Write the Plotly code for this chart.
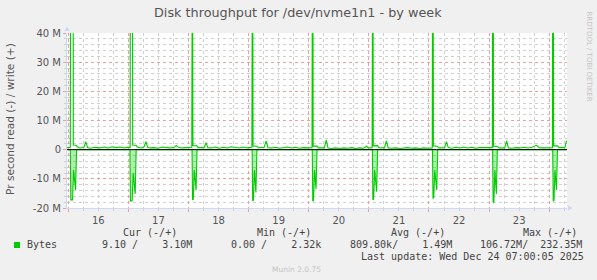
import pandas as pd
import plotly.graph_objects as go

# ---------------- data ----------------
title_text = "Disk throughput for /dev/nvme1n1 - by week"
y_title_text = "Pr second read (-) / write (+)"
start_time = "2025-12-16 00:00"

# hours since start_time, and write throughput in MB/s
write_hours = [
    -0.5,
    0.8, 1.0, 1.8, 2.0, 3.1, 3.7, 4.7, 6.2, 7.0, 7.7, 8.7, 10.7, 12.7, 14.3, 15.9, 17.5, 19.1, 20.7, 22.3, 23.5,
    24.7, 24.8, 25.5, 25.7, 27.1, 27.7, 29.1, 30.2, 31.0, 31.7, 32.7, 34.3, 35.9, 37.5, 39.1, 40.7, 42.3, 43.1, 43.9, 45.5, 47.1,
    49.3, 49.55, 49.75, 51.3, 51.9, 54.2, 55.0, 55.7, 57.1, 58.7, 60.3, 61.9, 63.5, 65.1, 66.7, 68.3, 69.9, 71.5,
    73.3, 73.55, 73.75, 75.3, 75.9, 78.2, 79.0, 79.7, 81.1, 82.7, 84.3, 85.9, 87.5, 89.1, 90.7, 92.3, 93.9, 95.5,
    97.3, 97.55, 97.75, 99.3, 99.9, 102.2, 103.0, 103.7, 105.1, 106.7, 108.3, 109.9, 111.5, 113.1, 114.7, 116.3, 117.9, 119.1, 119.7,
    121.3, 121.55, 121.75, 123.4, 123.9, 126.2, 127.0, 127.7, 129.1, 130.7, 132.3, 133.9, 135.5, 137.1, 138.7, 140.3, 141.9, 143.5,
    145.3, 145.55, 145.75, 147.3, 147.9, 150.2, 151.0, 151.7, 153.1, 154.7, 156.3, 157.9, 159.5, 161.1, 162.7, 164.3, 165.9, 167.5,
    169.3, 169.55, 169.75, 171.3, 171.9, 174.2, 175.0, 175.7, 177.1, 178.7, 180.3, 181.9, 183.5, 185.1, 187.0, 187.9, 189.5, 191.1,
    193.3, 193.55, 193.75, 195.3, 195.9, 197.9, 198.3, 198.9,
]
write_mb = [
    0.7,
    0.8, 120, 232, 1.6, 1.5, 0.9, 0.6, 0.8, 2.7, 0.7, 0.5, 0.8, 0.6, 0.9, 0.6, 1.0, 0.7, 0.9, 0.6, 0.8,
    0.8, 150, 180, 1.6, 1.4, 0.8, 0.6, 0.9, 2.7, 0.8, 0.6, 0.7, 0.5, 0.9, 0.7, 0.6, 0.8, 1.4, 0.8, 0.6, 0.7,
    0.8, 90, 1.4, 1.3, 0.7, 0.7, 2.4, 0.7, 0.6, 0.9, 0.5, 0.8, 0.6, 1.0, 0.7, 0.6, 0.9, 0.6,
    0.8, 110, 1.3, 1.2, 0.7, 0.8, 3.0, 0.7, 0.6, 0.8, 0.5, 0.7, 0.9, 0.6, 0.8, 0.5, 0.7, 0.6,
    0.7, 130, 1.2, 1.2, 0.6, 0.6, 3.3, 0.6, 0.4, 0.6, 0.4, 0.6, 0.5, 0.7, 0.4, 0.6, 0.5, 1.2, 0.6,
    0.7, 100, 1.3, 1.4, 0.7, 0.6, 3.0, 0.6, 0.5, 0.6, 0.4, 0.6, 0.7, 0.5, 0.6, 0.4, 0.6, 0.5,
    0.6, 140, 1.3, 1.2, 0.6, 0.7, 2.7, 0.7, 0.5, 0.8, 0.6, 0.9, 0.6, 0.8, 0.5, 0.7, 0.6, 0.7,
    0.7, 160, 1.2, 1.1, 0.6, 0.6, 3.0, 0.6, 0.5, 0.7, 0.6, 0.8, 0.6, 0.8, 1.5, 0.7, 0.6, 0.7,
    0.7, 200, 1.3, 1.3, 0.7, 0.7, 0.8, 3.1,
]

# read throughput in MB/s (drawn below zero)
read_hours = [
    -0.5, 0.8, 1.0, 1.7, 2.1, 2.9, 3.3,
    24.6, 24.8, 25.5, 25.9, 26.7, 27.1,
    49.4, 49.6, 49.9, 50.3, 51.0, 51.4,
    73.4, 73.6, 73.9, 74.3, 74.9, 75.3,
    97.4, 97.6, 97.9, 98.3, 98.9, 99.3,
    121.4, 121.6, 121.9, 122.3, 123.1, 123.5,
    145.4, 145.6, 145.9, 146.3, 147.1, 147.5,
    169.4, 169.6, 169.9, 170.3, 170.9, 171.3,
    193.4, 193.6, 193.9, 194.3, 194.9, 195.3, 198.9,
]
read_mb = [
    0, 0, 17.2, 17.2, 7, 13.8, 0,
    0, 17.6, 17.6, 8, 15.2, 0,
    0, 17.2, 17.0, 7, 13.8, 0,
    0, 17.5, 17.3, 7, 14.7, 0,
    0, 17.6, 17.4, 7, 13.5, 0,
    0, 17.2, 17.0, 7, 14.4, 0,
    0, 16.7, 16.5, 7, 13.8, 0,
    0, 18.1, 17.9, 7, 15.2, 0,
    0, 17.6, 17.4, 7, 13.8, 0, 0,
]

y_tick_values = [-20e6, -10e6, 0, 10e6, 20e6, 30e6, 40e6]
y_tick_labels = ["-20 M", "-10 M", "0", "10 M", "20 M", "30 M", "40 M"]

legend_series = "Bytes"
legend_heads = ["Cur (-/+)", "Min (-/+)", "Avg (-/+)", "Max (-/+)"]
legend_values = ["9.10 /    3.10M", "0.00 /    2.32k", "809.80k/    1.49M", "106.72M/  232.35M"]
last_update = "Last update: Wed Dec 24 07:00:05 2025"
footer = "Munin 2.0.75"
side_text = "RRDTOOL / TOBI OETIKER"

# ---------------- figure ----------------
W, H = 597, 280
L, R, T, B = 67, 567, 33, 208  # plot area in pixels


def px(x):
    return (x - L) / (R - L)


def py(y):
    return (B - y) / (B - T)


base = pd.Timestamp(start_time)


def to_time(hours):
    return [base + pd.Timedelta(hours=h) for h in hours]


GREEN = "#00CC00"
fig = go.Figure()
fig.add_trace(go.Scatter(
    x=to_time(read_hours), y=[-v * 1e6 for v in read_mb], mode="lines",
    line=dict(color=GREEN, width=1.1), fill="tozeroy",
    fillcolor="rgba(0,204,0,0.32)", hoverinfo="skip"))
fig.add_trace(go.Scatter(
    x=to_time(write_hours), y=[v * 1e6 for v in write_mb], mode="lines",
    line=dict(color=GREEN, width=1.1), hoverinfo="skip"))

MAJ = "#EBA0A0"
MIN = "#D0D0D0"
AX = "#CFD6F8"
FONT = "DejaVu Sans"
MONO = "DejaVu Sans Mono"

fig.update_layout(
    width=W, height=H, margin=dict(l=L, r=W - R, t=T, b=H - B),
    paper_bgcolor="#F0F0F0", plot_bgcolor="#FFFFFF", showlegend=False,
    xaxis=dict(
        type="date",
        range=[base + pd.Timedelta(hours=-0.52), base + pd.Timedelta(hours=199.1)],
        tickmode="linear", tick0=start_time, dtick=86400000,
        ticklabelmode="period", tickformat="%d",
        showgrid=True, gridcolor=MAJ, griddash="dot", gridwidth=1,
        showline=True, linecolor=AX, linewidth=1, zeroline=False,
        ticks="outside", ticklen=3, tickcolor=MAJ,
        tickfont=dict(family=FONT, size=10, color="#555555"),
        minor=dict(dtick=21600000, tick0=start_time, showgrid=True,
                   gridcolor=MIN, griddash="dot", gridwidth=1,
                   ticks="outside", ticklen=2, tickcolor=MIN),
    ),
    yaxis=dict(
        range=[-20e6, 40e6], tickmode="array",
        tickvals=y_tick_values, ticktext=y_tick_labels,
        showgrid=True, gridcolor=MAJ, griddash="dot", gridwidth=1,
        showline=True, linecolor=AX, linewidth=1, zeroline=False,
        ticks="outside", ticklen=3, tickcolor=MAJ,
        tickfont=dict(family=FONT, size=10, color="#555555"),
        minor=dict(dtick=2e6, tick0=0, showgrid=True,
                   gridcolor=MIN, griddash="dot", gridwidth=1,
                   ticks="outside", ticklen=2, tickcolor=MIN),
    ),
)

shapes = [
    # zero line above the data
    dict(type="line", xref="paper", yref="y", x0=0, x1=1, y0=0, y1=0,
         line=dict(color="#000000", width=1), layer="above"),
    # axis arrows
    dict(type="path", xref="paper", yref="paper", layer="above",
         path=f"M {px(64.5)} {py(31)} L {px(69.5)} {py(31)} L {px(67)} {py(26.5)} Z",
         fillcolor=AX, line=dict(width=0)),
    dict(type="path", xref="paper", yref="paper", layer="above",
         path=f"M {px(568)} {py(205.5)} L {px(568)} {py(210.5)} L {px(572.5)} {py(208)} Z",
         fillcolor=AX, line=dict(width=0)),
    # legend colour box
    dict(type="rect", xref="paper", yref="paper",
         x0=px(14), x1=px(20), y0=py(248), y1=py(242),
         fillcolor=GREEN, line=dict(width=0)),
]
fig.update_layout(shapes=shapes)


def ann(text, x, y, size, color, family=FONT, xanchor="left", angle=0):
    fig.add_annotation(text=text, x=px(x), y=py(y), xref="paper", yref="paper",
                       xanchor=xanchor, yanchor="middle", showarrow=False,
                       textangle=angle, borderpad=0, borderwidth=0,
                       font=dict(family=family, size=size, color=color))


ann(title_text, 298, 13, 12.8, "#555555", xanchor="center")
ann(y_title_text, 10, 119, 10.6, "#555555", xanchor="center", angle=-90)
ann(side_text, 588.5, 56, 7, "#C4C4C4", xanchor="center", angle=90)

head_x = [123.3, 256.7, 390.7, 522.7]
val_x = [101.7, 231, 350, 480]
for t, x in zip(legend_heads, head_x):
    ann(t.replace(" ", "&nbsp;"), x, 232.7, 10, "#444444", family=MONO)
ann(legend_series, 26.7, 244.7, 10, "#444444", family=MONO)
for t, x in zip(legend_values, val_x):
    ann(t.replace(" ", "&nbsp;"), x, 244.7, 10, "#444444", family=MONO)
ann(last_update.replace(" ", "&nbsp;"), 361, 256.3, 10, "#444444", family=MONO)
ann(footer, 272.3, 269, 7.5, "#C4C4C4")

fig.write_html("out.html")
